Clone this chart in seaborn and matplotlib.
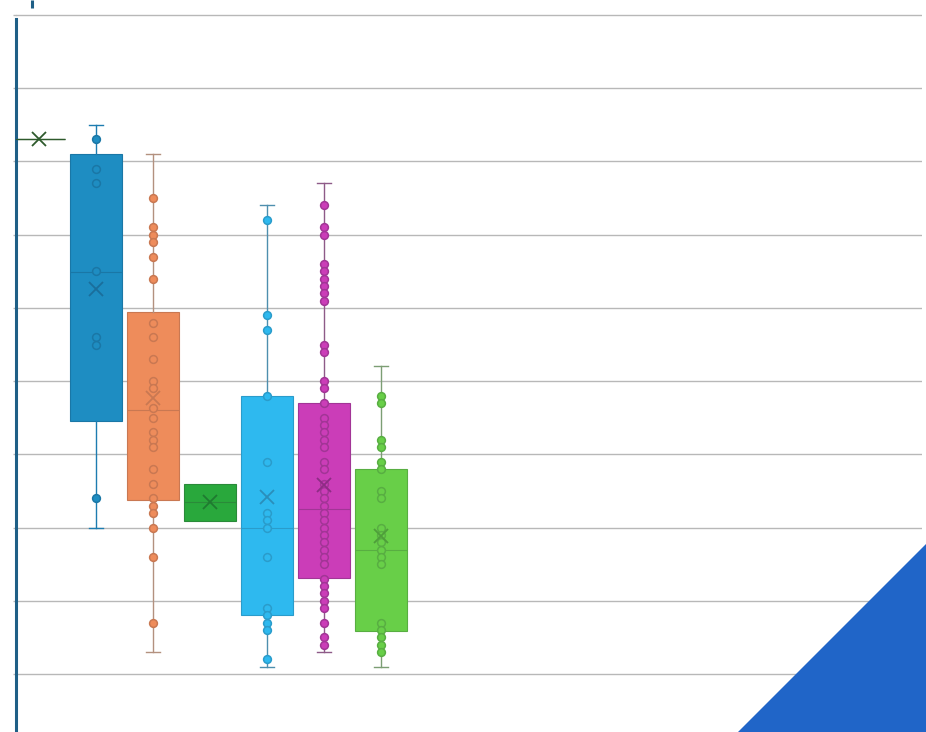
import matplotlib
matplotlib.use('Agg')
import matplotlib.pyplot as plt
import seaborn as sns
import pandas as pd
from matplotlib.patches import Polygon
from matplotlib.lines import Line2D

# groups, left to right
groups = ['g0', 'g1', 'g2', 'g3', 'g4', 'g5', 'g6']
positions = [0, 1, 2, 3, 4, 5, 6]

# box stats (y units: one gridline = 10)
whislo = [73.1, 20.0, 3.0, 20.9, 0.9, 3.0, 0.9]
q1 = [73.1, 34.5, 23.8, 20.9, 8.0, 13.1, 5.9]
med = [73.1, 54.9, 36.1, 23.5, 20.0, 22.5, 17.0]
q3 = [73.1, 71.0, 49.5, 26.0, 37.9, 37.0, 28.0]
whishi = [73.1, 75.0, 71.0, 26.0, 64.0, 67.1, 42.0]
means = [73.1, 52.6, 37.7, 23.5, 24.2, 25.8, 18.8]

# the dots drawn on each box
points = {
    'g0': [],
    'g1': [73, 69, 67, 55, 46, 45, 24],
    'g2': [65, 61, 60, 59, 57, 54, 48, 46, 43, 40, 39, 36.3, 35, 33, 32, 31,
           28, 26, 24, 23, 22, 20, 16, 7],
    'g3': [],
    'g4': [62, 49, 47, 38, 29, 22, 21, 20, 16, 9, 8, 7, 6, 2],
    'g5': [64, 61, 60, 56, 55, 54, 53, 52, 51, 45, 44, 40, 39, 37, 35, 34, 33,
           32, 31, 29, 28, 26, 25, 24, 23, 22, 21, 20, 19, 18, 17, 16, 15, 13,
           12, 11, 10, 9, 7, 5, 4],
    'g6': [38, 37, 32, 31, 29, 28, 25, 24, 20, 19, 18, 17, 16, 15, 7, 6, 5, 4, 3],
}

face = ['#2E5A2C', '#1E8DC2', '#EE8C5B', '#29A83C', '#2EB9EF', '#CB3DB8', '#68CF48']
edge = ['#2E5A2C', '#1A77A6', '#C97852', '#2A8A39', '#2A9CCB', '#A23596', '#58AE42']
whisk = ['#2E5A2C', '#1D7CB0', '#B3917F', '#2A8A39', '#4E8FAE', '#8E5B88', '#7C9E74']
meanc = ['#2E5A2C', '#1A6E9C', '#C97852', '#1F7A30', '#2A8EBB', '#8E2C85', '#4E9E3A']

fig = plt.figure(figsize=(9.26, 7.32), dpi=100)
fig.patch.set_facecolor('white')

# blue corner triangle (behind the axes)
fig.patches.append(Polygon([(738 / 926, 0), (1, 0), (1, 188 / 732)], closed=True,
                           transform=fig.transFigure, facecolor='#2065C8',
                           edgecolor='none', zorder=0))
# small cut-off mark at the top
fig.add_artist(Line2D([32 / 926, 32 / 926], [1, 724 / 732], transform=fig.transFigure,
                      color='#1F5F86', linewidth=2.2, solid_capstyle='butt'))

ax = fig.add_axes([16 / 926, 0, 906 / 926, 1])
ax.set_facecolor('none')

stats = []
for i in range(len(groups)):
    stats.append({'med': med[i], 'q1': q1[i], 'q3': q3[i], 'whislo': whislo[i],
                  'whishi': whishi[i], 'mean': means[i], 'fliers': []})

bp = ax.bxp(stats, positions=positions, widths=0.912, capwidths=0.25,
            patch_artist=True, showmeans=True, showfliers=False,
            manage_ticks=False, zorder=2)

for i in range(len(groups)):
    box = bp['boxes'][i]
    if i == 0:
        box.set_facecolor('none')
        box.set_edgecolor(face[0])
        box.set_linewidth(1.0)
    else:
        box.set_facecolor(face[i])
        box.set_edgecolor(edge[i])
        box.set_linewidth(0.8)
    bp['medians'][i].set_color(edge[i])
    bp['medians'][i].set_linewidth(0.8)
    bp['medians'][i].set_zorder(3.5)
    for ln in bp['whiskers'][2 * i:2 * i + 2] + bp['caps'][2 * i:2 * i + 2]:
        ln.set_color(whisk[i])
        ln.set_linewidth(1.0)
    if i in (0, 3):
        for ln in bp['caps'][2 * i:2 * i + 2]:
            ln.set_visible(False)
    m = bp['means'][i]
    m.set_marker('x')
    m.set_markersize(10)
    m.set_markeredgewidth(1.3)
    m.set_markeredgecolor(meanc[i])
    m.set_zorder(5)

# dots via seaborn
for i, g in enumerate(groups):
    vals = points[g]
    if not vals:
        continue
    df = pd.DataFrame({'x': [positions[i]] * len(vals), 'value': vals})
    sns.stripplot(data=df, x='x', y='value', native_scale=True, jitter=False,
                  color=face[i], edgecolor=edge[i], linewidth=1.1, size=5.6,
                  ax=ax, zorder=4)

ax.set_xlim(-0.4035, 15.49)
ax.set_ylim(-7.92, 92.05)
ax.set_yticks(range(0, 100, 10))
ax.set_xticks([])
ax.yaxis.grid(True, color='#B8B8B8', linewidth=1.0)
ax.set_axisbelow(True)
ax.tick_params(axis='y', length=2.2, width=1.0, color='#B8B8B8', labelleft=False)
ax.set_xlabel('')
ax.set_ylabel('')
for s in ['top', 'right', 'bottom']:
    ax.spines[s].set_visible(False)
ax.spines['left'].set_color('#1F5F86')
ax.spines['left'].set_linewidth(2.2)
ax.spines['left'].set_bounds(-7.92, 89.4)

fig.savefig('out.png', dpi=100)
